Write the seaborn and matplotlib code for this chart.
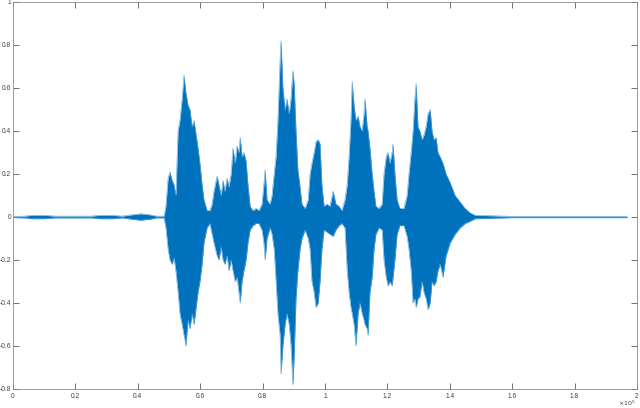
import numpy as np
import pandas as pd
import matplotlib
matplotlib.use("Agg")
import matplotlib.pyplot as plt
import seaborn as sns

# sample index (x 10^5) and waveform envelope
x_pos = [0.000, 0.038, 0.060, 0.100, 0.135, 0.250, 0.280, 0.320, 0.350, 0.380, 0.410, 0.440, 0.460, 0.484,
         0.490, 0.497, 0.503, 0.510, 0.516, 0.522, 0.529, 0.535, 0.542, 0.548, 0.551, 0.554, 0.561, 0.567,
         0.574, 0.580, 0.587, 0.593, 0.599, 0.606, 0.612, 0.622, 0.631, 0.638,
         0.644, 0.654, 0.660, 0.667, 0.673, 0.679, 0.686, 0.692, 0.699, 0.705, 0.712, 0.718, 0.724, 0.728,
         0.734, 0.740, 0.747, 0.753, 0.760, 0.769, 0.779, 0.788, 0.798, 0.804, 0.808, 0.814, 0.824, 0.830,
         0.837, 0.843, 0.849, 0.856, 0.859, 0.865, 0.872, 0.878, 0.885, 0.891, 0.897, 0.901, 0.907, 0.913,
         0.920, 0.926, 0.936, 0.946, 0.952, 0.958, 0.965, 0.971, 0.978, 0.984, 0.990, 0.997, 1.006, 1.016,
         1.026, 1.035, 1.045, 1.054, 1.064, 1.071, 1.077, 1.083, 1.087, 1.093, 1.099, 1.106, 1.112, 1.119,
         1.125, 1.128, 1.135, 1.138, 1.144, 1.151, 1.157, 1.163, 1.173, 1.183, 1.189, 1.196, 1.202, 1.208,
         1.215, 1.218, 1.224, 1.231, 1.240, 1.253, 1.263, 1.269, 1.276, 1.282, 1.288, 1.292, 1.298, 1.304,
         1.311, 1.317, 1.324, 1.330, 1.337, 1.343, 1.349, 1.356, 1.362, 1.369, 1.378, 1.388, 1.401, 1.417,
         1.433, 1.449, 1.465, 1.481, 1.600, 1.800, 1.968]
upper = [0.003, 0.004, 0.008, 0.008, 0.004, 0.004, 0.008, 0.008, 0.004, 0.010, 0.015, 0.010, 0.004, 0.004,
         0.05, 0.18, 0.21, 0.17, 0.15, 0.10, 0.40, 0.45, 0.55, 0.66, 0.62, 0.58, 0.52, 0.50,
         0.42, 0.45, 0.38, 0.32, 0.25, 0.15, 0.08, 0.03, 0.03, 0.06,
         0.12, 0.19, 0.15, 0.10, 0.17, 0.12, 0.18, 0.14, 0.20, 0.32, 0.25, 0.33, 0.30, 0.37,
         0.28, 0.30, 0.26, 0.15, 0.05, 0.03, 0.04, 0.03, 0.06, 0.15, 0.22, 0.08, 0.06, 0.10,
         0.20, 0.28, 0.45, 0.73, 0.82, 0.60, 0.50, 0.55, 0.48, 0.55, 0.68, 0.62, 0.40, 0.22,
         0.14, 0.06, 0.04, 0.08, 0.20, 0.25, 0.30, 0.35, 0.36, 0.34, 0.15, 0.05, 0.06, 0.05,
         0.12, 0.06, 0.05, 0.03, 0.08, 0.15, 0.28, 0.45, 0.63, 0.52, 0.45, 0.47, 0.42, 0.40,
         0.48, 0.55, 0.42, 0.40, 0.32, 0.20, 0.12, 0.05, 0.04, 0.06, 0.20, 0.28, 0.30, 0.25,
         0.30, 0.34, 0.20, 0.08, 0.04, 0.04, 0.10, 0.20, 0.30, 0.40, 0.55, 0.62, 0.42, 0.40,
         0.36, 0.38, 0.42, 0.48, 0.50, 0.40, 0.36, 0.37, 0.30, 0.28, 0.25, 0.20, 0.16, 0.10,
         0.07, 0.04, 0.02, 0.008, 0.003, 0.003, 0.003]
lower = [-0.003, -0.004, -0.008, -0.008, -0.004, -0.004, -0.008, -0.008, -0.004, -0.010, -0.015, -0.010, -0.004, -0.004,
         -0.05, -0.15, -0.20, -0.22, -0.19, -0.25, -0.35, -0.45, -0.50, -0.55, -0.57, -0.60, -0.48, -0.52,
         -0.45, -0.50, -0.42, -0.35, -0.30, -0.22, -0.12, -0.05, -0.03, -0.08,
         -0.12, -0.18, -0.20, -0.14, -0.20, -0.22, -0.18, -0.25, -0.20, -0.25, -0.30, -0.28, -0.35, -0.40,
         -0.30, -0.25, -0.20, -0.12, -0.06, -0.04, -0.03, -0.03, -0.06, -0.12, -0.20, -0.10, -0.05, -0.08,
         -0.15, -0.30, -0.45, -0.55, -0.73, -0.60, -0.50, -0.45, -0.50, -0.60, -0.78, -0.65, -0.38, -0.25,
         -0.15, -0.10, -0.06, -0.10, -0.15, -0.30, -0.35, -0.42, -0.40, -0.30, -0.15, -0.06, -0.07, -0.08,
         -0.09, -0.06, -0.04, -0.03, -0.05, -0.25, -0.35, -0.42, -0.45, -0.50, -0.60, -0.45, -0.40, -0.45,
         -0.48, -0.50, -0.52, -0.55, -0.35, -0.28, -0.15, -0.08, -0.05, -0.06, -0.20, -0.28, -0.32, -0.30,
         -0.32, -0.28, -0.20, -0.08, -0.04, -0.04, -0.09, -0.15, -0.25, -0.40, -0.38, -0.42, -0.38, -0.37,
         -0.30, -0.35, -0.38, -0.43, -0.40, -0.30, -0.32, -0.30, -0.25, -0.22, -0.28, -0.18, -0.12, -0.08,
         -0.05, -0.03, -0.02, -0.008, -0.003, -0.003, -0.003]

x_ticks = [0, 0.2, 0.4, 0.6, 0.8, 1.0, 1.2, 1.4, 1.6, 1.8, 2.0]
x_tick_labels = ["0", "0.2", "0.4", "0.6", "0.8", "1", "1.2", "1.4", "1.6", "1.8", "2"]
y_ticks = [-0.8, -0.6, -0.4, -0.2, 0, 0.2, 0.4, 0.6, 0.8, 1.0]
y_tick_labels = ["-0.8", "-0.6", "-0.4", "-0.2", "0", "0.2", "0.4", "0.6", "0.8", "1"]

df = pd.DataFrame({"x": x_pos, "upper": upper, "lower": lower})

sns.set_theme(style="white")
plt.rcParams["font.family"] = ["Liberation Sans", "DejaVu Sans"]

fig = plt.figure(figsize=(6.4, 4.08), dpi=100)
ax = fig.add_axes([0.0203, 0.0466, 0.975, 0.9485])

main = "#0072BD"
edge = "#5ba6db"
ax.fill_between(df["x"], df["lower"], df["upper"], color=main, linewidth=0, zorder=2)
sns.lineplot(data=df, x="x", y="upper", ax=ax, color=edge, linewidth=0.45, zorder=3, sort=False)
sns.lineplot(data=df, x="x", y="lower", ax=ax, color=edge, linewidth=0.45, zorder=3, sort=False)

ax.set_xlim(0, 2)
ax.set_ylim(-0.8, 1.0)
ax.set_xticks(x_ticks)
ax.set_xticklabels(x_tick_labels)
ax.set_yticks(y_ticks)
ax.set_yticklabels(y_tick_labels)
ax.set_xlabel("")
ax.set_ylabel("")

ax.tick_params(axis="both", direction="in", length=4, width=0.6, color="#5a5a5a",
               labelsize=4.8, labelcolor="#404040", pad=3,
               top=True, right=True, bottom=True, left=True)
ax.tick_params(axis="y", pad=1.2)
for s in ax.spines.values():
    s.set_visible(True)
    s.set_color("#8a8a8a")
    s.set_linewidth(0.6)

ax.text(0.998, -0.026, r"$\times10^5$", transform=ax.transAxes, ha="right", va="top",
        fontsize=4.5, color="#404040")

fig.savefig("out.png", dpi=100)
